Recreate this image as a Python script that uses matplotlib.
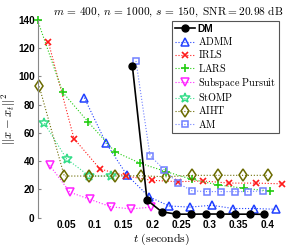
import matplotlib
matplotlib.use("Agg")
import matplotlib.pyplot as plt

plt.rcParams['mathtext.fontset'] = 'cm'

# times (seconds) and squared error for each method
dm_t = [0.165, 0.1905, 0.216, 0.2415, 0.267, 0.2925, 0.318, 0.3435, 0.369, 0.3945]
dm_v = [107.5, 12.5, 4.2, 2.5, 2.5, 2.6, 2.6, 2.5, 2.5, 2.4]

admm_t = [0.0814, 0.119, 0.155, 0.194, 0.229, 0.265, 0.303, 0.3405, 0.377, 0.414]
admm_v = [85, 53, 30.5, 14.8, 8.3, 7.5, 8.8, 6.5, 6.5, 6.0]

irls_t = [0.0188, 0.0635, 0.1087, 0.154, 0.1986, 0.2438, 0.2883, 0.3336, 0.3795, 0.4247]
irls_v = [124.5, 56, 34.5, 29.5, 26.5, 25.5, 26, 24.5, 24.5, 24]

lars_t = [0.0, 0.0438, 0.0885, 0.1348, 0.179, 0.224, 0.268, 0.3144, 0.3597, 0.4043]
lars_v = [140, 88.8, 67.6, 46.7, 38.5, 32.6, 27.2, 23.2, 20.8, 18.9]

sp_t = [0.0209, 0.0565, 0.0913, 0.127, 0.162, 0.197]
sp_v = [37.3, 18, 13, 7.8, 6.2, 7.4]

stomp_t = [0.0118, 0.0508, 0.090, 0.128]
stomp_v = [66.9, 41.6, 29.5, 29.5]

aiht_t = [0.003, 0.0466, 0.090, 0.135, 0.1795, 0.2235, 0.268, 0.3134, 0.357, 0.4014]
aiht_v = [93, 29.5, 29.5, 29.5, 29.7, 29, 30, 30, 30, 30]

am_t = [0.1713, 0.1957, 0.2205, 0.2438, 0.2692, 0.2943, 0.319, 0.3435, 0.3666, 0.3917]
am_v = [111, 44, 34, 24.5, 19, 18.5, 18.5, 18.5, 18.5, 19]

fig = plt.figure(figsize=(2.87, 2.45), dpi=100)
ax = fig.add_axes([37.5 / 287, 27.3 / 245, 247.2 / 287, 197.7 / 245])

ax.plot(admm_t, admm_v, ':', color='#2040ff', marker='^', ms=6, mfc='none', mew=1.1, lw=0.8,
        clip_on=False, label=r'$\mathrm{ADMM}$')
ax.plot(irls_t, irls_v, ':', color='#ff1a1a', marker='x', ms=4.5, mew=1.2, lw=0.8,
        clip_on=False, label=r'$\mathrm{IRLS}$')
ax.plot(lars_t, lars_v, ':', color='#22cc11', marker='+', ms=6, mew=1.2, lw=0.8,
        clip_on=False, label=r'$\mathrm{LARS}$')
ax.plot(sp_t, sp_v, ':', color='#ff22ff', marker='v', ms=6, mfc='none', mew=1.1, lw=0.8,
        clip_on=False, label=r'$\mathrm{Subspace\ Pursuit}$')
ax.plot(stomp_t, stomp_v, ':', color='#33dd88', marker='*', ms=7.5, mfc='none', mew=1.1, lw=0.8,
        clip_on=False, label=r'$\mathrm{StOMP}$')
ax.plot(aiht_t, aiht_v, ':', color='#6b6b00', marker='d', ms=6.5, mfc='none', mew=1.1, lw=0.8,
        clip_on=False, label=r'$\mathrm{AIHT}$')
ax.plot(am_t, am_v, ':', color='#7080ff', marker='s', ms=5, mfc='none', mew=1.1, lw=0.8,
        clip_on=False, label=r'$\mathrm{AM}$')
dm_line, = ax.plot(dm_t, dm_v, '-', color='black', marker='o', ms=5, lw=1.2, zorder=5,
                   clip_on=False, label='DM')

ax.set_xlim(0, 0.43)
ax.set_ylim(0, 140)
ax.set_xticks([0.05, 0.1, 0.15, 0.2, 0.25, 0.3, 0.35, 0.4])
ax.set_xticklabels(['0.05', '0.1', '0.15', '0.2', '0.25', '0.3', '0.35', '0.4'])
ax.set_yticks(range(0, 141, 20))

for s in ['top', 'right', 'bottom']:
    ax.spines[s].set_visible(False)
ax.spines['left'].set_color('#888888')
ax.spines['left'].set_linewidth(0.8)
ax.tick_params(axis='y', direction='in', length=2.5, color='#888888', pad=2)
ax.tick_params(axis='x', length=0, pad=2)
for lab in ax.get_xticklabels() + ax.get_yticklabels():
    lab.set_fontfamily('Liberation Sans')
    lab.set_fontweight('bold')
    lab.set_fontsize(7.2)

ax.set_xlabel(r'$t\ \mathrm{(seconds)}$', fontsize=8.6, labelpad=0.5)
ax.set_ylabel(r'$||x-x_t||^2$', fontsize=9, labelpad=0)
ax.set_title(r'$m\,=\,400,\, n\,=\,1000,\, s\,=\,150,\ \mathrm{SNR{=}20.98\ dB}$',
             fontsize=8.2, pad=4, x=0.53)

handles, labels = ax.get_legend_handles_labels()
handles = [handles[-1]] + handles[:-1]
labels = [labels[-1]] + labels[:-1]
leg = ax.legend(handles, labels, loc='upper right', bbox_to_anchor=(278.5 / 287, 224 / 245),
                bbox_transform=fig.transFigure, fontsize=7.3, labelspacing=0.12,
                handlelength=1.9, handletextpad=0.3, borderpad=0.3, borderaxespad=0,
                fancybox=False, framealpha=1, edgecolor='#555555')
leg.get_frame().set_linewidth(0.8)
leg.get_texts()[0].set_fontfamily('Liberation Sans')
leg.get_texts()[0].set_fontweight('bold')

fig.savefig('out.png', dpi=100)
